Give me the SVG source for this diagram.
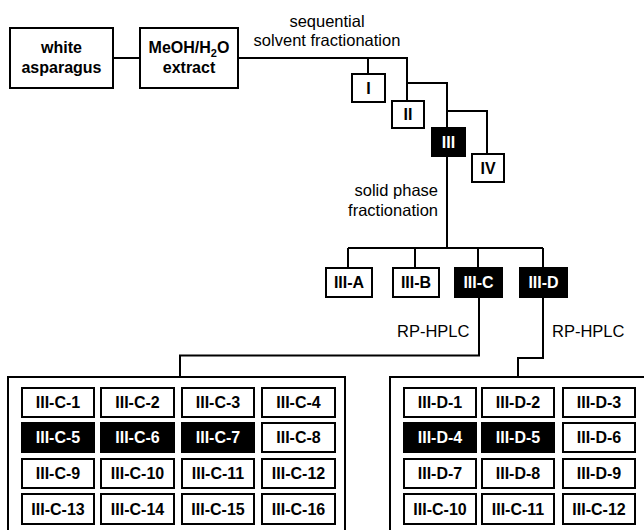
<svg xmlns="http://www.w3.org/2000/svg" width="644" height="530" viewBox="0 0 644 530">
<style>
.bx{fill:#fff;stroke:#000;stroke-width:2}
.bk{fill:#000;stroke:#000;stroke-width:2}
.ln{fill:none;stroke:#000;stroke-width:2}
.t{font-family:"Liberation Sans",Arial,sans-serif;font-size:16px;font-weight:bold;text-anchor:middle;fill:#000}
.w{fill:#fff}
.r{font-family:"Liberation Sans",Arial,sans-serif;font-size:16.5px;fill:#000}
</style>
<rect width="644" height="530" fill="#fff"/>
<g id="connectors" class="ln">
<path d="M114 58H140"/>
<path d="M238 58H407V101"/>
<path d="M368 58V74"/>
<path d="M407 83H447V128"/>
<path d="M447 111H487V154"/>
<path d="M447 156V248"/>
<path d="M348 248H543"/>
<path d="M348 248V268M415 248V268M478 248V268M543 248V268"/>
<path d="M479 297V355.5H180V377"/>
<path d="M543 297V358H518V377"/>
</g>
<g id="labels">
<text class="r" x="327" y="27" text-anchor="middle">sequential</text>
<text class="r" x="327" y="46" text-anchor="middle">solvent fractionation</text>
<text class="r" x="438" y="196" text-anchor="end">solid phase</text>
<text class="r" x="438" y="216" text-anchor="end">fractionation</text>
<text class="r" x="397" y="337">RP-HPLC</text>
<text class="r" x="552" y="337">RP-HPLC</text>
</g>
<g id="white-asparagus"><rect class="bx" x="10" y="28" width="103" height="60"/><text class="t" x="61.5" y="53">white</text><text class="t" x="61.5" y="73">asparagus</text></g>
<g id="extract"><rect class="bx" x="140" y="28" width="98" height="60"/><text class="t" x="189" y="53">MeOH/H<tspan font-size="11" dy="4">2</tspan><tspan dy="-4">O</tspan></text><text class="t" x="189" y="73">extract</text></g>
<g id="I"><rect class="bx" x="352" y="74" width="33" height="28"/><text class="t" x="368.5" y="94">I</text></g>
<g id="II"><rect class="bx" x="392" y="101" width="32" height="27"/><text class="t" x="408" y="120">II</text></g>
<g id="III"><rect class="bk" x="432" y="128" width="33" height="28"/><text class="t w" x="448.5" y="148">III</text></g>
<g id="IV"><rect class="bx" x="472" y="154" width="32" height="28"/><text class="t" x="488" y="174">IV</text></g>
<g id="III-A"><rect class="bx" x="326" y="268" width="46" height="29"/><text class="t" x="349" y="288">III-A</text></g>
<g id="III-B"><rect class="bx" x="393" y="268" width="46" height="29"/><text class="t" x="416" y="288">III-B</text></g>
<g id="III-C"><rect class="bk" x="455" y="268" width="47" height="29"/><text class="t w" x="478.5" y="288">III-C</text></g>
<g id="III-D"><rect class="bk" x="520" y="268" width="47" height="29"/><text class="t w" x="543.5" y="288">III-D</text></g>
<g id="III-C-fractions">
<rect class="bx" x="8" y="377" width="337" height="200"/>
<rect class="bx" x="22" y="388" width="72" height="29"/><text class="t" x="58" y="408">III-C-1</text>
<rect class="bx" x="101" y="388" width="73" height="29"/><text class="t" x="137.5" y="408">III-C-2</text>
<rect class="bx" x="182" y="388" width="72" height="29"/><text class="t" x="218" y="408">III-C-3</text>
<rect class="bx" x="262" y="388" width="73" height="29"/><text class="t" x="298.5" y="408">III-C-4</text>
<rect class="bk" x="22" y="423" width="72" height="29"/><text class="t w" x="58" y="443">III-C-5</text>
<rect class="bk" x="101" y="423" width="73" height="29"/><text class="t w" x="137.5" y="443">III-C-6</text>
<rect class="bk" x="182" y="423" width="72" height="29"/><text class="t w" x="218" y="443">III-C-7</text>
<rect class="bx" x="262" y="423" width="73" height="29"/><text class="t" x="298.5" y="443">III-C-8</text>
<rect class="bx" x="22" y="459" width="72" height="29"/><text class="t" x="58" y="479">III-C-9</text>
<rect class="bx" x="101" y="459" width="73" height="29"/><text class="t" x="137.5" y="479">III-C-10</text>
<rect class="bx" x="182" y="459" width="72" height="29"/><text class="t" x="218" y="479">III-C-11</text>
<rect class="bx" x="262" y="459" width="73" height="29"/><text class="t" x="298.5" y="479">III-C-12</text>
<rect class="bx" x="22" y="494" width="72" height="30"/><text class="t" x="58" y="515">III-C-13</text>
<rect class="bx" x="101" y="494" width="73" height="30"/><text class="t" x="137.5" y="515">III-C-14</text>
<rect class="bx" x="182" y="494" width="72" height="30"/><text class="t" x="218" y="515">III-C-15</text>
<rect class="bx" x="262" y="494" width="73" height="30"/><text class="t" x="298.5" y="515">III-C-16</text>
</g>
<g id="III-D-fractions">
<rect class="bx" x="390" y="377" width="300" height="200"/>
<rect class="bx" x="404" y="388" width="72" height="29"/><text class="t" x="440" y="408">III-D-1</text>
<rect class="bx" x="482" y="388" width="72" height="29"/><text class="t" x="518" y="408">III-D-2</text>
<rect class="bx" x="563" y="388" width="72" height="29"/><text class="t" x="599" y="408">III-D-3</text>
<rect class="bk" x="404" y="423" width="72" height="29"/><text class="t w" x="440" y="443">III-D-4</text>
<rect class="bk" x="482" y="423" width="72" height="29"/><text class="t w" x="518" y="443">III-D-5</text>
<rect class="bx" x="563" y="423" width="72" height="29"/><text class="t" x="599" y="443">III-D-6</text>
<rect class="bx" x="404" y="459" width="72" height="29"/><text class="t" x="440" y="479">III-D-7</text>
<rect class="bx" x="482" y="459" width="72" height="29"/><text class="t" x="518" y="479">III-D-8</text>
<rect class="bx" x="563" y="459" width="72" height="29"/><text class="t" x="599" y="479">III-D-9</text>
<rect class="bx" x="404" y="494" width="72" height="30"/><text class="t" x="440" y="515">III-C-10</text>
<rect class="bx" x="482" y="494" width="72" height="30"/><text class="t" x="518" y="515">III-C-11</text>
<rect class="bx" x="563" y="494" width="72" height="30"/><text class="t" x="599" y="515">III-C-12</text>
</g>
</svg>
